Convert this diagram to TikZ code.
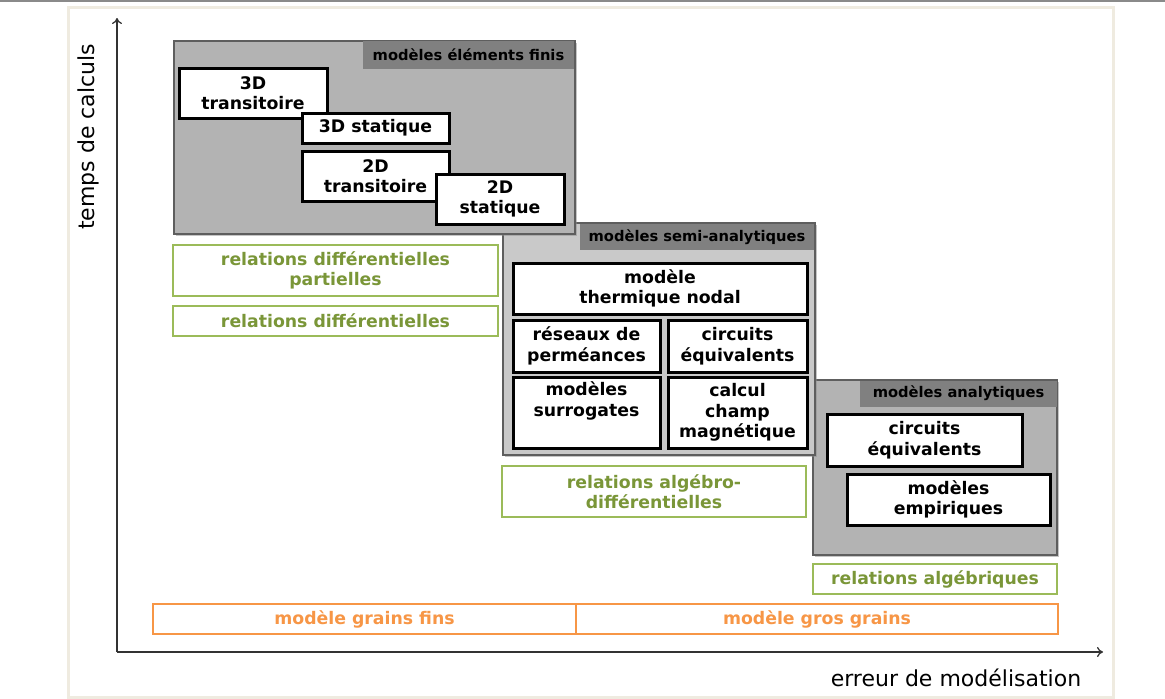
\documentclass[tikz,border=0pt]{standalone}
\usepackage{fontspec}
\setmainfont{DejaVu Sans}
\usetikzlibrary{shadows,arrows.meta}

\definecolor{framebeige}{HTML}{EFEBE0}
\definecolor{topline}{HTML}{8A8A8A}
\definecolor{panelgray}{HTML}{B3B3B3}
\definecolor{panellight}{HTML}{C9C9C9}
\definecolor{tabgray}{HTML}{808080}
\definecolor{paneledge}{HTML}{5E5E5E}
\definecolor{relgreen}{HTML}{9BBB59}
\definecolor{reltext}{HTML}{7A9638}
\definecolor{grainorange}{HTML}{F79646}
\definecolor{axisgray}{HTML}{333333}

\tikzset{
  panel/.style={draw=paneledge, line width=1.8pt, fill=panelgray, inner sep=0pt,
    drop shadow={shadow xshift=2pt, shadow yshift=-2pt, fill=black!45, opacity=0.5}},
  panellt/.style={panel, fill=panellight},
  paneltab/.style={fill=tabgray, inner sep=0pt, font=\fontsize{14.7}{16}\selectfont\bfseries, text=black},
  modelbox/.style={draw=black, line width=3pt, fill=white, inner sep=0pt, align=center,
    font=\fontsize{17.3}{20.5}\selectfont\bfseries,
    drop shadow={shadow xshift=1.5pt, shadow yshift=-1.5pt, fill=black!40, opacity=0.5}},
  relbox/.style={draw=relgreen, line width=2.6pt, fill=white, inner sep=0pt, align=center,
    text=reltext, font=\fontsize{17.3}{20.5}\selectfont\bfseries},
  grainbox/.style={draw=grainorange, line width=2.6pt, fill=white, inner sep=0pt, align=center,
    text=grainorange, font=\fontsize{17.3}{20.5}\selectfont\bfseries},
  axislabel/.style={font=\fontsize{22}{26}\selectfont, text=black, inner sep=0pt},
  axisline/.style={draw=axisgray, line width=1.3pt, -{To[length=6pt,width=10pt]}},
}

\begin{document}
\begin{tikzpicture}[x=1pt,y=-1pt]
  \useasboundingbox (0,0) rectangle (1165,699);
  \fill[white] (0,0) rectangle (1165,699);

  % page rule and frame
  \draw[topline, line width=1.5pt] (0,0.8) -- (1165,0.8);
  \draw[framebeige, line width=3pt] (68,7.5) rectangle (1113,697);

  % axes
  \coordinate (origin) at (117,652);
  \coordinate (ytop) at (117,18);
  \coordinate (xend) at (1103,652);
  \draw[axisline] (origin) -- (ytop);
  \draw[axisline] (origin) -- (xend);
  \node[axislabel, rotate=90] (ylab) at (88,137) {temps de calculs};
  \node[axislabel] (xlab) at (956,678) {erreur de modélisation};

  % analytical models
  \node[panel, minimum width=244pt, minimum height=175pt] (ana) at (935,467.5) {};
  \node[paneltab, minimum width=197pt, minimum height=26pt] (anatab) at (958.5,393.5) {modèles analytiques};
  \node[modelbox, minimum width=195pt, minimum height=52pt] (anacirc) at (924.5,440) {circuits\\équivalents};
  \node[modelbox, minimum width=203pt, minimum height=51pt] (anaemp) at (948.5,499.5) {modèles\\empiriques};

  % semi-analytical models
  \node[panellt, minimum width=312pt, minimum height=232pt] (semi) at (659,339) {};
  \node[paneltab, minimum width=234pt, minimum height=26pt] (semitab) at (697,237) {modèles semi-analytiques};
  \node[modelbox, minimum width=294pt, minimum height=51pt] (nodal) at (660,288.5) {modèle\\thermique nodal};
  \node[modelbox, minimum width=147pt, minimum height=52pt] (perm) at (586.5,346) {réseaux de\\perméances};
  \node[modelbox, minimum width=139pt, minimum height=52pt] (semicirc) at (737.5,346) {circuits\\équivalents};
  \node[modelbox, minimum width=147pt, minimum height=71pt] (surr) at (586.5,412.5) {modèles\\surrogates\\\strut};
  \node[modelbox, minimum width=139pt, minimum height=71pt] (champ) at (737.5,412.5) {calcul\\champ\\magnétique};

  % finite element models
  \node[panel, minimum width=401pt, minimum height=193pt] (fe) at (374.5,137.5) {};
  \node[paneltab, minimum width=211pt, minimum height=28pt] (fetab) at (468.5,55) {modèles éléments finis};
  \node[modelbox, minimum width=148pt, minimum height=50pt] (trans3d) at (253,93) {3D\\transitoire};
  \node[modelbox, minimum width=147pt, minimum height=30pt] (stat3d) at (375.5,128) {3D statique};
  \node[modelbox, minimum width=147pt, minimum height=50pt] (trans2d) at (375.5,176) {2D\\transitoire};
  \node[modelbox, minimum width=128pt, minimum height=50pt] (stat2d) at (500,199) {2D\\statique};

  % mathematical formulations
  \node[relbox, minimum width=325pt, minimum height=51pt] (edp) at (335.5,270.5) {relations différentielles\\partielles};
  \node[relbox, minimum width=325pt, minimum height=30pt] (edo) at (335.5,321) {relations différentielles};
  \node[relbox, minimum width=304pt, minimum height=51pt] (dae) at (654,491.5) {relations algébro-\\différentielles};
  \node[relbox, minimum width=244pt, minimum height=30pt] (alg) at (935,579) {relations algébriques};

  % granularity band
  \node[grainbox, minimum width=423pt, minimum height=30pt] (fine) at (364.5,619) {modèle grains fins};
  \node[grainbox, minimum width=482pt, minimum height=30pt] (coarse) at (817,619) {modèle gros grains};
\end{tikzpicture}
\end{document}
